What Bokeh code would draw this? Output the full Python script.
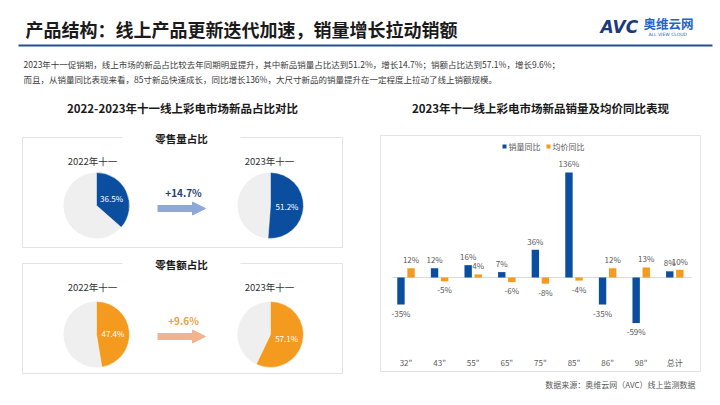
import numpy as np
from bokeh.plotting import figure
from bokeh.models import Range1d, Arrow, NormalHead
from bokeh.core.properties import value
from bokeh.embed import file_html
from bokeh.resources import INLINE

W, H = 720, 405
FONT = value("Noto Sans CJK SC")

# ---------------- data ----------------
title = "产品结构：线上产品更新迭代加速，销量增长拉动销额"
body_lines = [
    "2023年十一促销期，线上市场的新品占比较去年同期明显提升，其中新品销量占比达到51.2%，增长14.7%；销额占比达到57.1%，增长9.6%；",
    "而且，从销量同比表现来看，85寸新品快速成长，同比增长136%，大尺寸新品的销量提升在一定程度上拉动了线上销额规模。",
]
left_title = "2022-2023年十一线上彩电市场新品占比对比"
right_title = "2023年十一线上彩电市场新品销量及均价同比表现"
pie_groups = ["零售量占比", "零售额占比"]
pie_years = ["2022年十一", "2023年十一"]
volume_share = [36.5, 51.2]
value_share = [47.4, 57.1]
share_growth = ["+14.7%", "+9.6%"]
categories = ['32"', '43"', '55"', '65"', '75"', '85"', '86"', '98"', "总计"]
sales_yoy = [-35, 12, 16, 7, 36, 136, -35, -59, 8]
price_yoy = [12, -5, 4, -6, -8, -4, 12, 13, 10]
series_names = ["销量同比", "均价同比"]
source_note = "数据来源：奥维云网（AVC）线上监测数据"

# ---------------- style ----------------
BLUE = "#0B4E9F"
ORANGE = "#F39A1F"
PIE_GREY = "#EFEFEF"
BOX = "#E3E3E3"
DARK = "#1A1A1A"
GREY_TXT = "#595959"


def Y(py):
    return H - py


p = figure(width=W, height=H, x_range=Range1d(0, W), y_range=Range1d(0, H),
           x_axis_type=None, y_axis_type=None, toolbar_location=None,
           output_backend="svg", min_border=0)
p.outline_line_color = None
p.background_fill_color = "white"
p.border_fill_color = "white"


def txt(x, y, s, size, color, bold=False, align="left", baseline="middle", font=FONT, style=None):
    p.text(x=[x], y=[Y(y)], text=[s], text_font=font, text_font_size=f"{size}px",
           text_color=color, text_font_style=style or ("bold" if bold else "normal"),
           text_align=align, text_baseline=baseline)


# ---------------- header ----------------
txt(25, 28, title, 18, DARK, bold=True)
p.line([18, 712], [Y(45), Y(45)], line_color="#23508F", line_width=2)
txt(23, 63, body_lines[0], 8.5, "#3A3A3A")
txt(23, 78, body_lines[1], 8.5, "#3A3A3A")

# logo
txt(600, 26, "AVC", 17, "#1C3A78", bold=True, font=value("DejaVu Sans"), style="bold italic")
txt(643, 23, "奥维云网", 12.5, "#2563C4", bold=True)
txt(648, 34, "ALL VIEW CLOUD", 4.5, "#2563C4", font=value("DejaVu Sans"))

# ---------------- left panel ----------------
txt(182, 107, left_title, 11.5, DARK, bold=True, align="center")

box_tops = [137, 263]
box_bottoms = [247, 373]
pie_cy = [205, 334]
year_y = [160, 286]
arrow_y = [208, 336]
growth_y = [192, 320]
pie_cx = [96, 270]
year_x = [92, 269]
R = 33
shares = [volume_share, value_share]
slice_colors = [BLUE, ORANGE]
arrow_colors = ["#8FA9D6", "#F2B48E"]
growth_colors = ["#1F3E77", "#E9A23B"]

for g in range(2):
    top, bot = box_tops[g], box_bottoms[g]
    p.quad(left=[22], right=[342], top=[Y(top)], bottom=[Y(bot)],
           fill_color=None, line_color=BOX, line_width=1)
    p.quad(left=[122], right=[240], top=[Y(top) + 2], bottom=[Y(top) - 2],
           fill_color="white", line_color=None)
    txt(181, top + 1, pie_groups[g], 10.5, DARK, bold=True, align="center")
    for k in range(2):
        s = shares[g][k]
        cx, cy = pie_cx[k], Y(pie_cy[g])
        frac = s / 100.0
        p.wedge(x=[cx], y=[cy], radius=R, start_angle=0, end_angle=2 * np.pi,
                fill_color=PIE_GREY, line_color=None)
        p.wedge(x=[cx], y=[cy], radius=R, start_angle=np.pi / 2,
                end_angle=np.pi / 2 - 2 * np.pi * frac, direction="clock",
                fill_color=slice_colors[g], line_color="white", line_width=0.5)
        mid = 2 * np.pi * frac / 2
        lx = cx + 0.5 * R * np.sin(mid)
        ly = cy + 0.5 * R * np.cos(mid)
        p.text(x=[lx], y=[ly], text=[f"{s:.1f}%"], text_font=FONT, text_font_size="8px",
               text_color="white", text_align="center", text_baseline="middle")
        txt(year_x[k], year_y[g], pie_years[k], 9.5, "#333333", align="center")
    p.add_layout(Arrow(x_start=157, y_start=Y(arrow_y[g]), x_end=205, y_end=Y(arrow_y[g]),
                       line_width=7, line_color=arrow_colors[g],
                       end=NormalHead(size=13, fill_color=arrow_colors[g],
                                      line_color=arrow_colors[g])))
    txt(183, growth_y[g], share_growth[g], 10, growth_colors[g], bold=True, align="center")

# ---------------- right panel: bar chart ----------------
txt(540, 107, right_title, 11.5, DARK, bold=True, align="center")
p.quad(left=[380], right=[700], top=[Y(135)], bottom=[Y(371)],
       fill_color=None, line_color=BOX, line_width=1)

X0, DX = 405.5, 33.6    # pixel of first category, pixel spacing
Z0, K = 277.0, 0.772    # pixel of zero line, pixels per percent
p.extra_x_ranges = {"cx": Range1d(start=-X0 / DX, end=(W - X0) / DX)}
p.extra_y_ranges = {"cy": Range1d(start=(Z0 - H) / K, end=Z0 / K)}

idx = np.arange(len(categories), dtype=float)
OFF, BW, GAP = 0.15, 0.22, 4.0

p.line(x=[-0.4, len(categories) - 0.5], y=[0, 0], x_range_name="cx", y_range_name="cy",
       line_color="#D9D9D9", line_width=1)

for vals, off, col in [(sales_yoy, -OFF, BLUE), (price_yoy, OFF, ORANGE)]:
    v = np.array(vals, dtype=float)
    p.vbar(x=idx + off, top=v, bottom=0, width=BW, fill_color=col, line_color=None,
           x_range_name="cx", y_range_name="cy")
    pos = v >= 0
    p.text(x=(idx + off)[pos], y=v[pos] + GAP, text=[f"{int(a)}%" for a in v[pos]],
           x_range_name="cx", y_range_name="cy", text_font=FONT, text_font_size="8px",
           text_color=GREY_TXT, text_align="center", text_baseline="bottom")
    neg = ~pos
    p.text(x=(idx + off)[neg], y=v[neg] - GAP, text=[f"{int(a)}%" for a in v[neg]],
           x_range_name="cx", y_range_name="cy", text_font=FONT, text_font_size="8px",
           text_color=GREY_TXT, text_align="center", text_baseline="top")

p.text(x=idx, y=[Y(362)] * len(categories), text=categories, x_range_name="cx",
       text_font=FONT, text_font_size="8px", text_color=GREY_TXT,
       text_align="center", text_baseline="middle")

# legend
for lx, name, col in [(504, series_names[0], BLUE), (548, series_names[1], ORANGE)]:
    p.scatter(x=[lx], y=[Y(146)], marker="square", size=4, fill_color=col, line_color=None)
    txt(lx + 4, 146, name, 8, GREY_TXT)

txt(695, 384, source_note, 8, GREY_TXT, align="right")

open("out.html", "w").write(file_html(p, INLINE, title="chart"))
